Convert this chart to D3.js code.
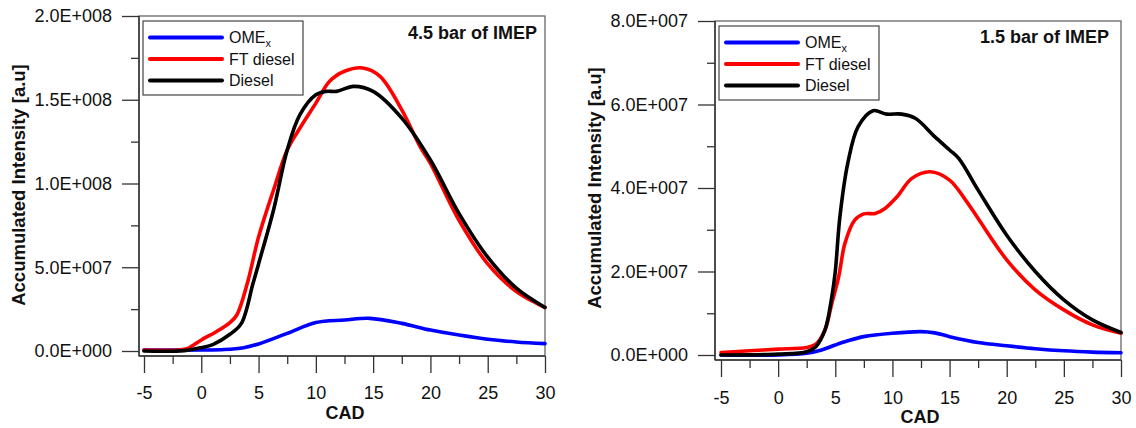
<!DOCTYPE html>
<html>
<head>
<meta charset="utf-8">
<script src="https://cdn.jsdelivr.net/npm/d3@7"></script>
<style>
  body { margin: 0; background: #fff; }
  svg { display: block; font-family: "Liberation Sans", Arial, sans-serif; }
</style>
</head>
<body>
<div id="chart"></div>
<script>
// values, in units of 1e7 a.u.
const seriesNames = ["OME", "FT diesel", "Diesel"];
const seriesColors = ["#0000ff", "#ff0000", "#000000"];

// 4.5 bar of IMEP
const leftOmeCad = [-5, 0, 2, 3.7, 5, 7.5, 10, 12.5, 14.7, 17.5, 20, 22.5, 25, 27.5, 30];
const leftOme = [0.05, 0.06, 0.09, 0.2, 0.42, 1.05, 1.7, 1.85, 1.95, 1.65, 1.25, 0.95, 0.7, 0.54, 0.44];
const leftFtCad = [-5, -2, -1.2, 0, 1.3, 2.5, 3.1, 4.0, 5.0, 6.3, 7.5, 8.6, 10, 11.2, 12.5, 14.1, 15.6, 17.5, 19.1, 20, 22.5, 25, 27.5, 30];
const leftFt = [0.06, 0.06, 0.15, 0.66, 1.15, 1.7, 2.15, 4.0, 6.8, 9.6, 12.0, 13.3, 14.8, 16.1, 16.7, 16.9, 16.4, 14.4, 12.2, 11.2, 7.8, 5.2, 3.55, 2.6];
const leftDieselCad = [-5, -1.5, 0, 1.05, 2.5, 3.5, 4.5, 5, 6.3, 7.5, 8.6, 10, 10.9, 11.8, 13.3, 15, 17.5, 20, 22.5, 25, 27.5, 30];
const leftDiesel = [0, 0.02, 0.2, 0.4, 1.0, 1.65, 4.0, 5.2, 8.4, 12.0, 14.1, 15.3, 15.5, 15.5, 15.8, 15.5, 13.9, 11.4, 8.2, 5.6, 3.75, 2.6];

// 1.5 bar of IMEP
const rightOmeCad = [-5, 0, 2.5, 3.8, 5, 6.1, 7.5, 10, 12.5, 13.7, 15, 17.5, 20, 22.5, 25, 27.5, 30];
const rightOme = [0, 0, 0.04, 0.12, 0.24, 0.34, 0.44, 0.52, 0.56, 0.53, 0.44, 0.3, 0.22, 0.15, 0.1, 0.07, 0.055];
const rightFtCad = [-5, -2.5, 0, 2.5, 3.3, 4.1, 4.7, 5.3, 5.85, 6.7, 7.5, 8.5, 9.35, 10.4, 11.7, 13.3, 15, 16.4, 17.5, 20, 22.5, 25, 27.5, 30];
const rightFt = [0.06, 0.1, 0.14, 0.18, 0.26, 0.6, 1.24, 1.88, 2.68, 3.23, 3.38, 3.39, 3.51, 3.79, 4.23, 4.39, 4.19, 3.71, 3.27, 2.28, 1.56, 1.08, 0.72, 0.52];
const rightDieselCad = [-5, 0, 2.5, 3.3, 4.1, 4.7, 5, 5.4, 6.1, 7.0, 8.3, 9.5, 10.8, 12.0, 13.7, 15, 15.8, 17.5, 20, 22.5, 25, 27.5, 30];
const rightDiesel = [0, 0.02, 0.08, 0.2, 0.6, 1.4, 2.0, 3.3, 4.6, 5.47, 5.85, 5.77, 5.77, 5.67, 5.23, 4.91, 4.71, 3.95, 2.87, 2.0, 1.32, 0.84, 0.54];

const xMajorTicks = [-5, 0, 5, 10, 15, 20, 25, 30];
const xMinorTicks = [-2.5, 2.5, 7.5, 12.5, 17.5, 22.5, 27.5];
const leftYMajor = [0, 5, 10, 15, 20];
const leftYMinor = [2.5, 7.5, 12.5, 17.5];
const rightYMajor = [0, 2, 4, 6, 8];
const rightYMinor = [1, 3, 5, 7];

const width = 1136, height = 428;
const svg = d3.select("#chart").append("svg")
  .attr("width", width).attr("height", height);

// 1e7 units -> "2.0E+008"
const sciFmt = v => {
  const [m, e] = (v * 1e7).toExponential(1).split("e");
  return m + "E" + e[0] + e.slice(1).padStart(3, "0");
};

function panel(p) {
  const g = svg.append("g");
  const x = d3.scaleLinear().domain([-5, 30]).range([p.x0, p.x1]);
  const y = d3.scaleLinear().domain([0, p.yMax]).range([p.y0, p.top]);

  // frame
  g.append("rect")
    .attr("x", p.left).attr("y", p.top)
    .attr("width", p.x1 - p.left).attr("height", p.bottom - p.top)
    .attr("fill", "none").attr("stroke", "#666").attr("stroke-width", 1.3);

  const styleAxis = sel => {
    sel.select(".domain").remove();
    sel.selectAll("line").attr("stroke", "#333").attr("stroke-width", 1.3);
    sel.selectAll("text").attr("fill", "#111").style("font-size", "18px")
      .style("font-family", "'Liberation Sans', Arial, sans-serif");
  };

  g.append("g").attr("transform", `translate(${p.left},0)`)
    .call(d3.axisLeft(y).tickValues(p.yMajor).tickSize(17).tickPadding(10).tickFormat(sciFmt))
    .call(styleAxis);
  g.append("g").attr("transform", `translate(${p.left},0)`)
    .call(d3.axisLeft(y).tickValues(p.yMinor).tickSize(8).tickFormat(""))
    .call(styleAxis);
  g.append("g").attr("transform", `translate(0,${p.bottom})`)
    .call(d3.axisBottom(x).tickValues(xMajorTicks).tickSize(17).tickPadding(p.xPad).tickFormat(d => String(d)))
    .call(styleAxis);
  g.append("g").attr("transform", `translate(0,${p.bottom})`)
    .call(d3.axisBottom(x).tickValues(xMinorTicks).tickSize(8).tickFormat(""))
    .call(styleAxis);

  // darker left / bottom axis lines
  g.append("line").attr("x1", p.left).attr("x2", p.left).attr("y1", p.top).attr("y2", p.bottom)
    .attr("stroke", "#333").attr("stroke-width", 1.5);
  g.append("line").attr("x1", p.left).attr("x2", p.x1).attr("y1", p.bottom).attr("y2", p.bottom)
    .attr("stroke", "#333").attr("stroke-width", 1.5);

  const line = d3.line().x(d => x(d[0])).y(d => y(d[1])).curve(d3.curveCatmullRom.alpha(0.5));
  p.series.forEach((s, i) => {
    g.append("path")
      .datum(d3.zip(s.cad, s.val))
      .attr("d", line)
      .attr("fill", "none")
      .attr("stroke", seriesColors[i])
      .attr("stroke-width", 3.6)
      .attr("stroke-linejoin", "round")
      .attr("stroke-linecap", "round");
  });

  // axis titles
  g.append("text")
    .attr("transform", `translate(${p.yTitleX},${p.yTitleY}) rotate(-90)`)
    .attr("text-anchor", "middle").attr("dy", "0.35em")
    .style("font-size", "18.5px").style("font-weight", "bold").attr("fill", "#111")
    .text("Accumulated Intensity [a.u]");
  g.append("text")
    .attr("x", p.cadX).attr("y", p.cadY)
    .attr("text-anchor", "middle")
    .style("font-size", "18px").style("font-weight", "bold").attr("fill", "#111")
    .text("CAD");

  // condition label
  g.append("text")
    .attr("x", p.titleX).attr("y", p.titleY)
    .attr("text-anchor", "end")
    .style("font-size", "18px").style("font-weight", "bold").attr("fill", "#111")
    .text(p.title);

  // legend
  const lg = g.append("g");
  lg.append("rect")
    .attr("x", p.legX).attr("y", p.legY).attr("width", 160).attr("height", 74)
    .attr("fill", "#fff").attr("stroke", "#444").attr("stroke-width", 1.2);
  seriesNames.forEach((name, i) => {
    const cy = p.legY + 16.5 + i * 21.5;
    lg.append("line")
      .attr("x1", p.legX + 7).attr("x2", p.legX + 79)
      .attr("y1", cy).attr("y2", cy)
      .attr("stroke", seriesColors[i]).attr("stroke-width", 4).attr("stroke-linecap", "round");
    const t = lg.append("text")
      .attr("x", p.legX + 86).attr("y", cy).attr("dy", "0.35em")
      .style("font-size", "16px").attr("fill", "#111");
    t.append("tspan").text(name);
    if (i === 0) {
      t.append("tspan").attr("dy", "0.35em").style("font-size", "11px").text("x");
    }
  });
}

panel({
  left: 139, x0: 144, x1: 545, top: 16, y0: 351, bottom: 356, yMax: 20,
  yMajor: leftYMajor, yMinor: leftYMinor, xPad: 13,
  series: [
    { cad: leftOmeCad, val: leftOme },
    { cad: leftFtCad, val: leftFt },
    { cad: leftDieselCad, val: leftDiesel }
  ],
  yTitleX: 19, yTitleY: 185, cadX: 345, cadY: 419,
  title: "4.5 bar of IMEP", titleX: 537, titleY: 39,
  legX: 143, legY: 21
});

panel({
  left: 715, x0: 721, x1: 1121, top: 21, y0: 355, bottom: 360, yMax: 8,
  yMajor: rightYMajor, yMinor: rightYMinor, xPad: 14,
  series: [
    { cad: rightOmeCad, val: rightOme },
    { cad: rightFtCad, val: rightFt },
    { cad: rightDieselCad, val: rightDiesel }
  ],
  yTitleX: 595, yTitleY: 188, cadX: 920, cadY: 423,
  title: "1.5 bar of IMEP", titleX: 1109, titleY: 43,
  legX: 719, legY: 26
});
</script>
</body>
</html>
